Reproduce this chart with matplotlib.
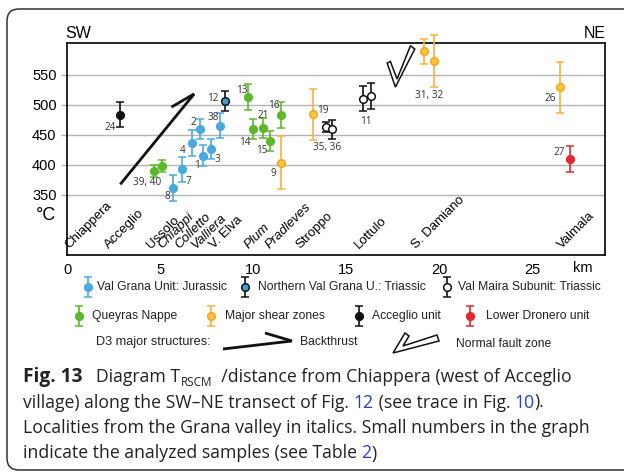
import numpy as np
import matplotlib.pyplot as plt
import matplotlib.transforms as mtransforms
from matplotlib.patches import FancyBboxPatch, Polygon

plt.rcParams['font.family'] = ['Liberation Sans', 'DejaVu Sans']

# distance from Chiappera (km), T_RSCM (deg C) and error, per unit
grana_km = [5.67, 6.20, 6.69, 7.31, 7.13, 7.76, 8.24]
grana_t = [361, 392, 436, 415, 459, 426, 465]
grana_err = [22, 21, 21, 17, 17, 16, 21]

north_km = [8.47]
north_t = [506]
north_err = [17]

maira_km = [13.90, 14.21, 15.91, 16.34]
maira_t = [463, 459, 510, 514]
maira_err = [8, 16, 21, 22]

queyras_km = [4.70, 5.08, 9.71, 9.99, 10.55, 10.90, 11.51]
queyras_t = [390, 398, 513, 459, 461, 439, 483]
queyras_err = [10, 10, 22, 17, 17, 17, 22]

shear_km = [11.47, 13.19, 19.20, 19.72, 26.49]
shear_t = [403, 484, 589, 573, 529]
shear_err = [44, 43, 21, 43, 43]

acceglio_km = [2.86]
acceglio_t = [483]
acceglio_err = [21]

dronero_km = [27.02]
dronero_t = [409]
dronero_err = [22]

# localities along the transect (italic = Grana valley)
localities = ['Chiappera', 'Acceglio', 'Ussolo', 'Chiappi', 'Colletto', 'Valliera',
              'V. Elva', 'Plum', 'Pradleves', 'Stroppo', 'Lottulo', 'S. Damiano', 'Valmala']
locality_km = [0.12, 2.27, 4.5, 5.13, 6.02, 6.92, 7.9, 9.78, 10.9, 12.55, 15.67, 18.77, 26.58]
locality_italic = [False, False, False, True, True, True, False, True, True, False, False, False, False]

# groups: name, km, T, err, bar colour, face, edge
groups = {
    'Val Grana Unit: Jurassic': (grana_km, grana_t, grana_err, '#4aaade', '#4aaade', '#4aaade'),
    'Northern Val Grana U.: Triassic': (north_km, north_t, north_err, '#111111', '#3d9fd3', '#111111'),
    'Val Maira Subunit: Triassic': (maira_km, maira_t, maira_err, '#111111', 'white', '#111111'),
    'Queyras Nappe': (queyras_km, queyras_t, queyras_err, '#5cb82a', '#5cb82a', '#5cb82a'),
    'Major shear zones': (shear_km, shear_t, shear_err, '#fbb03b', '#fdc43f', '#f6a71c'),
    'Acceglio unit': (acceglio_km, acceglio_t, acceglio_err, '#111111', '#111111', '#111111'),
    'Lower Dronero unit': (dronero_km, dronero_t, dronero_err, '#e3262b', '#e3262b', '#e3262b'),
}

# sample numbers: text, group, index of point, offset (px)
sample_labels = [
    ('24', 'Acceglio unit', 0, (-10, -13)),
    ('39, 40', 'Queyras Nappe', 0, (-7, -12)),
    ('8', 'Val Grana Unit: Jurassic', 0, (-5, -9)),
    ('7', 'Val Grana Unit: Jurassic', 1, (6, -12)),
    ('4', 'Val Grana Unit: Jurassic', 2, (-9, -7)),
    ('1', 'Val Grana Unit: Jurassic', 3, (-6, -10)),
    ('2', 'Val Grana Unit: Jurassic', 4, (-6, 7)),
    ('3', 'Val Grana Unit: Jurassic', 5, (6, -10)),
    ('38', 'Val Grana Unit: Jurassic', 6, (-7, 8)),
    ('12', 'Northern Val Grana U.: Triassic', 0, (-12, 3)),
    ('13', 'Queyras Nappe', 2, (-6, 6)),
    ('14', 'Queyras Nappe', 3, (-8, -13)),
    ('21', 'Queyras Nappe', 4, (0, 13)),
    ('15', 'Queyras Nappe', 5, (-8, -9)),
    ('16', 'Queyras Nappe', 6, (-7, 9)),
    ('9', 'Major shear zones', 0, (-7, -11)),
    ('19', 'Major shear zones', 1, (10, 4)),
    ('35, 36', 'Val Maira Subunit: Triassic', 0, (1, -21)),
    ('11', 'Val Maira Subunit: Triassic', 2, (3, -23)),
    ('31, 32', 'Major shear zones', 3, (-5, -35)),
    ('26', 'Major shear zones', 4, (-10, -11)),
    ('27', 'Lower Dronero unit', 0, (-11, 7)),
]

W, H = 624, 472
fig = plt.figure(figsize=(W / 100, H / 100), dpi=100)

# overlay in pixel units for the frame, legend and caption
ov = fig.add_axes([0, 0, 1, 1])
ov.set_xlim(0, W)
ov.set_ylim(H, 0)
ov.axis('off')

ax = fig.add_axes([67 / W, 1 - 255 / H, 538 / W, 212 / H])
ax.set_zorder(2)
ov.set_zorder(1)
ax.set_xlim(0, 28.9)
ax.set_ylim(249, 603)
ax.set_xticks([0, 5, 10, 15, 20, 25])
ax.set_yticks([350, 400, 450, 500, 550])
ax.grid(axis='y', color='#b3b3b3', lw=1)
ax.set_axisbelow(True)
ax.tick_params(axis='y', length=4.5, width=1, color='#b3b3b3', pad=3, labelsize=10.5)
ax.tick_params(axis='x', length=0, pad=6, labelsize=10.5)
for s in ax.spines.values():
    s.set_linewidth(1.2)
ax.annotate('km', xy=(583 / W, 1 - 268 / H), xycoords='figure fraction', ha='center',
            va='center', fontsize=10.5)

for name, (km, t, err, ec, fc, mec) in groups.items():
    cont = ax.errorbar(km, t, yerr=err, fmt='o', color=ec, mfc=fc, mec=mec, mew=1.1,
                       ms=5.5, elinewidth=1.2, capsize=2.6, capthick=1.2, zorder=3)
    for art in cont.get_children():
        art.set_clip_on(False)

for txt, grp, i, (dx, dy) in sample_labels:
    km, t = groups[grp][0][i], groups[grp][1][i]
    ax.annotate(txt, (km, t), xytext=(dx * 0.72, dy * 0.72), textcoords='offset points',
                ha='center', va='center', fontsize=7.2, color='#333333', family='Open Sans')

trans = mtransforms.blended_transform_factory(ax.transData, ax.transAxes)
for name, km, it in zip(localities, locality_km, locality_italic):
    ax.text(km, 0.028, name, transform=trans, rotation=45, rotation_mode='anchor',
            ha='left', va='baseline', fontsize=9.5, style='italic' if it else 'normal')

# D3 structures in the plot
ax.plot([2.86, 6.83], [367, 518], color='#111111', lw=2, solid_capstyle='butt', zorder=2)
ax.plot([5.61, 6.83], [496, 518], color='#111111', lw=2, solid_capstyle='butt', zorder=2)
ax.add_patch(Polygon([(17.2, 569.5), (17.64, 529.4), (18.68, 592.9), (18.45, 598.5),
                      (17.73, 542.8), (17.37, 572.2)], closed=True, fc='white',
                     ec='#111111', lw=1.1, zorder=2, clip_on=False))

# labels outside the frame
ov.text(78, 33, 'SW', ha='center', va='center', fontsize=11.5)
ov.text(595, 33, 'NE', ha='center', va='center', fontsize=11.5)
ov.text(46, 215, '°C', ha='center', va='center', fontsize=13)

# frame of the figure panel
ov.add_patch(FancyBboxPatch((7, 9), 650, 461, boxstyle='round,pad=0,rounding_size=12',
                            fc='none', ec='#333333', lw=1.1))

# legend
legend_pos = {
    'Val Grana Unit: Jurassic': (88, 287, 97),
    'Northern Val Grana U.: Triassic': (245, 287, 258),
    'Val Maira Subunit: Triassic': (447, 287, 458),
    'Queyras Nappe': (79, 316, 92),
    'Major shear zones': (211, 316, 225),
    'Acceglio unit': (359, 316, 372),
    'Lower Dronero unit': (470, 316, 486),
}
for name, (mx, my, tx) in legend_pos.items():
    km, t, err, ec, fc, mec = groups[name]
    ov.errorbar([mx], [my], yerr=[10], fmt='o', color=ec, mfc=fc, mec=mec, mew=1.1,
                ms=5.5, elinewidth=1.2, capsize=2.6, capthick=1.2)
    ov.text(tx, my, name, ha='left', va='center', fontsize=8.7, color='#222222')

ov.text(96, 342, 'D3 major structures:', ha='left', va='center', fontsize=9.2, color='#222222')
ov.plot([223, 292], [349, 341], color='#111111', lw=2, solid_capstyle='butt')
ov.plot([265, 292], [333, 341], color='#111111', lw=2, solid_capstyle='butt')
ov.text(300, 342, 'Backthrust', ha='left', va='center', fontsize=8.7, color='#222222')
ov.add_patch(Polygon([(393, 353), (439, 341), (437, 335), (403, 346), (409, 336),
                      (405, 333)], closed=True, fc='white', ec='#111111', lw=1.1))
ov.text(456, 344, 'Normal fault zone', ha='left', va='center', fontsize=8.7, color='#222222')

# caption
renderer = fig.canvas.get_renderer()
blue = '#2b3bd0'
cap = dict(fontsize=12.7, family='Open Sans', color='#222222')
caption = [
    [('Fig. 13', dict(weight='bold', fontsize=13.8)), ('   Diagram T', {}),
     ('RSCM', dict(fontsize=8.5, sub=True)),
     ('  /distance from Chiappera (west of Acceglio', {})],
    [('village) along the SW\u2013NE transect of Fig. ', {}), ('12', dict(color=blue)),
     (' (see trace in Fig. ', {}), ('10', dict(color=blue)), (').', {})],
    [('Localities from the Grana valley in italics. Small numbers in the graph', {})],
    [('indicate the analyzed samples (see Table ', {}), ('2', dict(color=blue)), (')', {})],
]
for k, line in enumerate(caption):
    x = 23
    y = 382 + k * 25.5
    for txt, extra in line:
        kw = dict(cap)
        kw.update(extra)
        dy = 4 if kw.pop('sub', False) else 0
        t = ov.text(x, y + dy, txt, ha='left', va='baseline', **kw)
        x += t.get_window_extent(renderer).width

fig.savefig('out.png', dpi=100)
